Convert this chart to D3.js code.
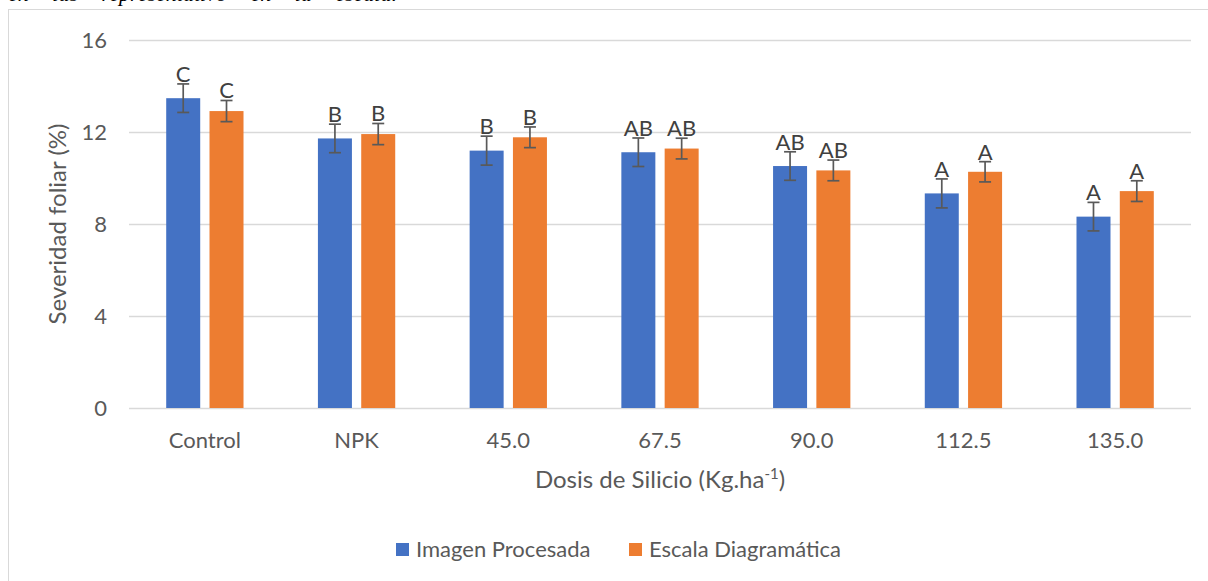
<!DOCTYPE html>
<html><head><meta charset="utf-8">
<script src="https://cdn.jsdelivr.net/npm/d3@7"></script>
<style>html,body{margin:0;padding:0;background:#fff;overflow:hidden}</style>
</head><body>
<svg id="c" width="1208" height="581"></svg>
<script>
const categories = ["Control","NPK","45.0","67.5","90.0","112.5","135.0"];
const seriesNames = ["Imagen Procesada","Escala Diagramática"];
const imagenValues = [13.47, 11.72, 11.19, 11.12, 10.52, 9.33, 8.32];
const imagenErrors = [0.62, 0.62, 0.63, 0.62, 0.62, 0.63, 0.62];
const escalaValues = [12.91, 11.91, 11.77, 11.28, 10.33, 10.27, 9.43];
const escalaErrors = [0.46, 0.46, 0.45, 0.45, 0.45, 0.44, 0.45];
const imagenLetters = ["C","B","B","AB","AB","A","A"];
const escalaLetters = ["C","B","B","AB","AB","A","A"];
const yTicks = [0,4,8,12,16];
const colors = ["#4472C4","#ED7D31"];

(function(){
const svg = d3.select("#c");
const font = "Lato, Carlito, 'Open Sans', sans-serif";
const textColor = "#595959";
const fs = 22;

// caption fragment (cut off at top, as in the reference)
svg.append("text").attr("x",8).attr("y",1)
  .attr("font-family","'Liberation Serif', serif").attr("font-style","italic")
  .attr("font-size",22).attr("word-spacing",18).attr("fill","#000")
  .text("en las representativo en la escala.");

// chart border
svg.append("rect").attr("x",8.5).attr("y",9.5).attr("width",1220).attr("height",600)
  .attr("fill","#fff").attr("stroke","#d9d9d9").attr("stroke-width",1);

const pL = 129, pR = 1191, pT = 40, pB = 408;
const y = d3.scaleLinear().domain([0,16]).range([pB, pT]);
const x0 = d3.scaleBand().domain(categories).range([pL, pR]).paddingInner(0).paddingOuter(0);
const barW = 34, gap = 9.3;

// gridlines
svg.append("g").selectAll("line").data(yTicks).join("line")
  .attr("x1",pL).attr("x2",pR)
  .attr("y1",d=>Math.round(y(d))+0.5).attr("y2",d=>Math.round(y(d))+0.5)
  .attr("stroke","#d9d9d9").attr("stroke-width",1.3);

// y axis labels
const yAxis = d3.axisLeft(y).tickValues(yTicks).tickSize(0).tickPadding(0);
const gy = svg.append("g").attr("transform",`translate(${107},0)`).call(yAxis);
gy.select(".domain").remove();
gy.selectAll("text").attr("font-family",font).attr("font-size",fs).attr("fill",textColor);

// x axis labels
const xAxis = d3.axisBottom(x0).tickSize(0).tickPadding(0);
const gx = svg.append("g").attr("transform",`translate(0,${pB})`).call(xAxis);
gx.select(".domain").remove();
gx.selectAll("text").attr("font-family",font).attr("font-size",fs).attr("fill",textColor)
  .attr("dy",null).attr("y",40);

const series = [
  {vals: imagenValues, errs: imagenErrors, letters: imagenLetters, color: colors[0], off: -gap/2 - barW},
  {vals: escalaValues, errs: escalaErrors, letters: escalaLetters, color: colors[1], off: gap/2}
];

series.forEach(s => {
  const g = svg.append("g");
  const data = categories.map((c,i)=>({c, v:s.vals[i], e:s.errs[i], l:s.letters[i]}));
  g.selectAll("rect").data(data).join("rect")
    .attr("x",d=>x0(d.c)+x0.bandwidth()/2+s.off)
    .attr("y",d=>y(d.v)).attr("width",barW).attr("height",d=>y(0)-y(d.v))
    .attr("fill",s.color);
  const cx = d=>x0(d.c)+x0.bandwidth()/2+s.off+barW/2;
  const eg = g.selectAll("g.err").data(data).join("g").attr("class","err");
  eg.append("line").attr("x1",cx).attr("x2",cx).attr("y1",d=>y(d.v+d.e)).attr("y2",d=>y(d.v-d.e))
    .attr("stroke","#595959").attr("stroke-width",1.7);
  eg.append("line").attr("x1",d=>cx(d)-6).attr("x2",d=>cx(d)+6).attr("y1",d=>y(d.v+d.e)).attr("y2",d=>y(d.v+d.e))
    .attr("stroke","#595959").attr("stroke-width",1.7);
  eg.append("line").attr("x1",d=>cx(d)-6).attr("x2",d=>cx(d)+6).attr("y1",d=>y(d.v-d.e)).attr("y2",d=>y(d.v-d.e))
    .attr("stroke","#595959").attr("stroke-width",1.7);
  g.selectAll("text").data(data).join("text")
    .attr("x",cx).attr("y",d=>y(d.v+d.e)-2).attr("text-anchor","middle")
    .attr("font-family",font).attr("font-size",fs).attr("fill","#404040").text(d=>d.l);
});

// axis titles
svg.append("text").attr("transform",`translate(66,${(pT+pB)/2}) rotate(-90)`)
  .attr("text-anchor","middle").attr("font-family",font).attr("font-size",24).attr("fill",textColor)
  .text("Severidad foliar (%)");
const xt = svg.append("text").attr("x",(pL+pR)/2).attr("y",488).attr("text-anchor","middle")
  .attr("font-family",font).attr("font-size",24).attr("fill",textColor);
xt.append("tspan").text("Dosis de Silicio (Kg.ha");
xt.append("tspan").attr("dy",-9).attr("font-size",15).text("-1");
xt.append("tspan").attr("dy",9).text(")");

// legend
const legendX = [396, 629];
seriesNames.forEach((n,i)=>{
  svg.append("rect").attr("x",legendX[i]).attr("y",543).attr("width",13).attr("height",13).attr("fill",colors[i]);
  svg.append("text").attr("x",legendX[i]+20).attr("y",557).attr("font-family",font).attr("font-size",fs)
    .attr("fill",textColor).text(n);
});
})();
</script>
</body></html>
